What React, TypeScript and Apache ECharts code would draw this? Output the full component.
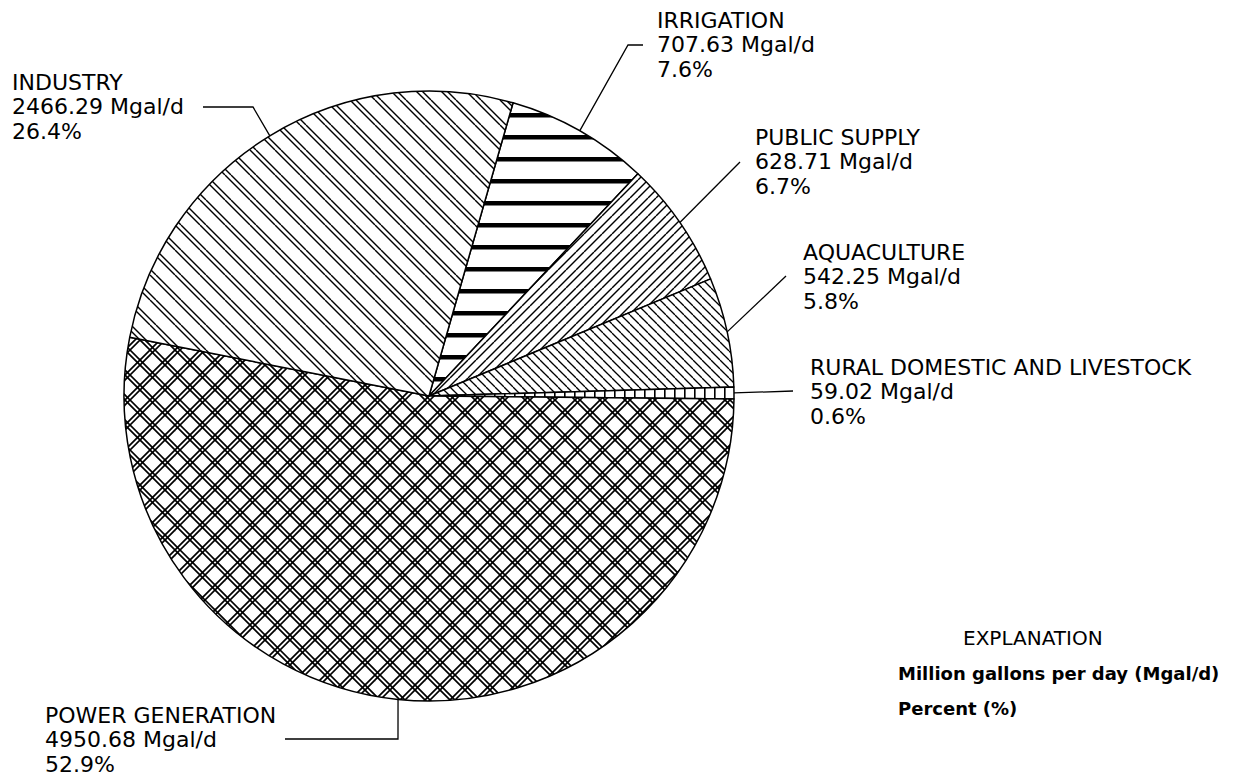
import React, { useEffect, useRef } from 'react';
import * as echarts from 'echarts';

// ---- data ----
const categories = [
  'IRRIGATION',
  'PUBLIC SUPPLY',
  'AQUACULTURE',
  'RURAL DOMESTIC AND LIVESTOCK',
  'POWER GENERATION',
  'INDUSTRY',
];
const values = [707.63, 628.71, 542.25, 59.02, 4950.68, 2466.29];
const unitLabel = 'Mgal/d';
const explanationTitle = 'EXPLANATION';
const explanationLines = ['Million gallons per day (Mgal/d)', 'Percent (%)'];

// ---- layout (positions / styles) ----
const CX = 429;
const CY = 396;
const R = 305;
const START_ANGLE = 74;
const LINE_GAP = 24.5;
const labelPos: number[][] = [
  [657, 20],
  [755, 137],
  [803, 252],
  [810, 367],
  [45, 715],
  [12, 82],
];
const leaderBends: number[][][] = [
  [[643, 45], [628, 45]],
  [[740, 162]],
  [[786, 276]],
  [[793, 391]],
  [[285, 739], [398, 739]],
  [[203, 107], [253, 107]],
];

function tile(w: number, h: number, body: string) {
  const svg = `<svg xmlns="http://www.w3.org/2000/svg" width="${w}" height="${h}"><rect width="${w}" height="${h}" fill="#fff"/>${body}</svg>`;
  return {
    image: 'data:image/svg+xml;charset=utf-8,' + encodeURIComponent(svg),
    repeat: 'repeat',
    imageWidth: w,
    imageHeight: h,
  };
}

function diag(W: number, offsets: number[], dir: 'back' | 'fwd', sw: number) {
  let s = '';
  for (const c of offsets) {
    for (const k of [-1, 0, 1]) {
      const a = c + k * W;
      if (dir === 'back') {
        s += `<line x1="${a}" y1="0" x2="${a + W}" y2="${W}" stroke="#000" stroke-width="${sw}"/>`;
      } else {
        s += `<line x1="${a}" y1="${W}" x2="${a + W}" y2="0" stroke="#000" stroke-width="${sw}"/>`;
      }
    }
  }
  return s;
}

const patterns = [
  // irrigation: thick horizontal lines
  tile(22, 22, `<rect x="0" y="3" width="22" height="4.5" fill="#000"/>`),
  // public supply: forward diagonal
  tile(18, 18, diag(18, [0, 8], 'fwd', 1.4)),
  // aquaculture: dense back diagonal
  tile(9, 9, diag(9, [0], 'back', 1.3)),
  // rural: vertical ticks
  tile(10, 10, `<rect x="4" y="0" width="1.6" height="10" fill="#000"/>`),
  // power generation: double crosshatch
  tile(25, 25, diag(25, [0, 5], 'back', 1.7) + diag(25, [0, 5], 'fwd', 1.7)),
  // industry: paired back diagonal
  tile(25, 25, diag(25, [0, 6], 'back', 1.4)),
];

export default function App() {
  const ref = useRef<HTMLDivElement>(null);
  useEffect(() => {
    if (!ref.current) return;
    const chart = echarts.init(ref.current, undefined, { renderer: 'svg' });
    const total = values.reduce((a, b) => a + b, 0);
    const font = 'DejaVu Sans';

    const graphics: any[] = [];
    let cum = 0;
    values.forEach((v, i) => {
      const mid = START_ANGLE - ((cum + v / 2) / total) * 360;
      cum += v;
      const rad = (mid * Math.PI) / 180;
      const edge = [CX + R * Math.cos(rad), CY - R * Math.sin(rad)];
      graphics.push({
        type: 'polyline',
        silent: true,
        shape: { points: [...leaderBends[i], edge] },
        style: { stroke: '#000', lineWidth: 1.3, fill: 'none' },
      });
      const lines = [
        categories[i],
        `${v.toFixed(2)} ${unitLabel}`,
        `${((v / total) * 100).toFixed(1)}%`,
      ];
      lines.forEach((t, j) => {
        graphics.push({
          type: 'text',
          silent: true,
          x: labelPos[i][0],
          y: labelPos[i][1] + j * LINE_GAP,
          style: {
            text: t,
            fontFamily: font,
            fontSize: 22,
            fill: '#000',
            align: 'left',
            verticalAlign: 'middle',
          },
        });
      });
    });

    graphics.push({
      type: 'text',
      silent: true,
      x: 963,
      y: 638,
      style: { text: explanationTitle, fontFamily: font, fontSize: 20, fill: '#000', verticalAlign: 'middle' },
    });
    explanationLines.forEach((t, j) => {
      graphics.push({
        type: 'text',
        silent: true,
        x: 898,
        y: 673 + j * 35,
        style: { text: t, fontFamily: font, fontSize: 18, fontWeight: 'bold', fill: '#000', verticalAlign: 'middle' },
      });
    });

    chart.setOption({
      animation: false,
      backgroundColor: '#fff',
      series: [
        {
          type: 'pie',
          silent: true,
          center: [CX, CY],
          radius: [0, R],
          startAngle: START_ANGLE,
          clockwise: true,
          label: { show: false },
          labelLine: { show: false },
          emphasis: { disabled: true },
          itemStyle: { borderColor: '#000', borderWidth: 1.5 },
          data: categories.map((name, i) => ({
            name,
            value: values[i],
            itemStyle: { color: patterns[i] },
          })),
        },
      ],
      graphic: graphics,
    });
    return () => chart.dispose();
  }, []);
  return (
    <div
      ref={ref}
      style={{ position: 'absolute', left: 0, top: 0, width: 1236, height: 779, background: '#fff' }}
    />
  );
}
